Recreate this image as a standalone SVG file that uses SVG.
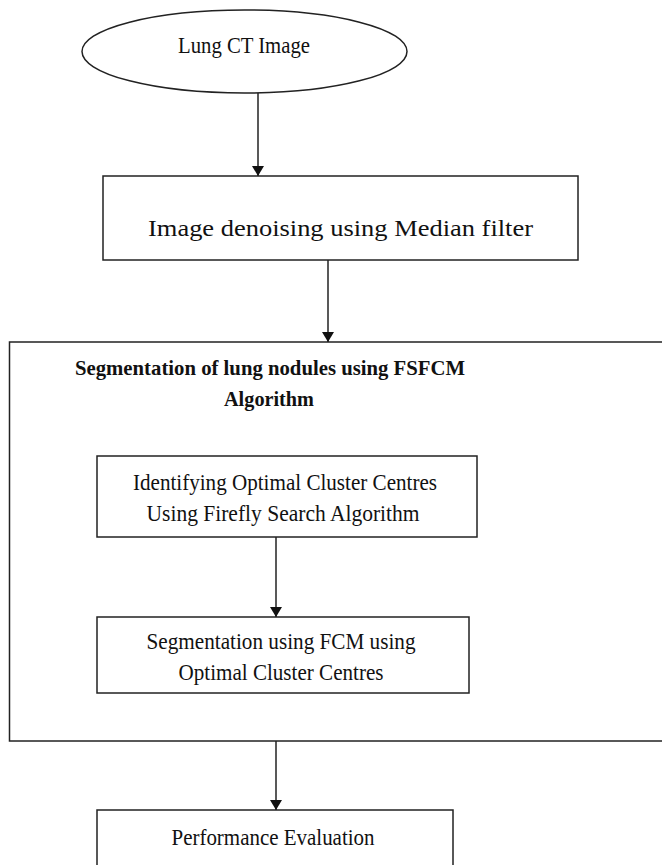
<svg xmlns="http://www.w3.org/2000/svg" width="662" height="865" viewBox="0 0 662 865">
<style>
.s{fill:#fff;stroke:#222;stroke-width:1.5}
.t{font-family:"Liberation Serif","Times New Roman",serif;font-size:24px;fill:#111;text-anchor:middle}
.b{font-weight:bold;font-size:21px}
.c{stroke:#222;stroke-width:1.5;fill:none}
</style>
<defs>
<marker id="ah" markerWidth="10" markerHeight="12" refX="10" refY="6" orient="auto" markerUnits="userSpaceOnUse">
<path d="M0,0 L10,6 L0,12 Z" fill="#111"/>
</marker>
</defs>
<rect width="662" height="865" fill="#fff"/>
<g id="n_lung">
<ellipse class="s" cx="244.5" cy="51.5" rx="162.5" ry="41.5"/>
<text class="t" x="244" y="53" textLength="132" lengthAdjust="spacingAndGlyphs">Lung CT  Image</text>
</g>
<g id="n_denoise">
<rect class="s" x="103" y="176" width="475" height="84"/>
<text class="t" x="340.5" y="236" textLength="385" lengthAdjust="spacingAndGlyphs">Image  denoising using Median filter</text>
</g>
<g id="n_seg">
<rect class="s" x="9.5" y="342" width="660" height="399"/>
<text class="t b" x="270" y="375" textLength="390" lengthAdjust="spacingAndGlyphs">Segmentation  of lung nodules  using FSFCM</text>
<text class="t b" x="269" y="406" textLength="90" lengthAdjust="spacingAndGlyphs">Algorithm</text>
</g>
<g id="n_firefly">
<rect class="s" x="97" y="456" width="380" height="81"/>
<text class="t" x="285" y="490" textLength="304" lengthAdjust="spacingAndGlyphs">Identifying Optimal Cluster Centres</text>
<text class="t" x="283" y="521" textLength="273" lengthAdjust="spacingAndGlyphs">Using Firefly Search Algorithm</text>
</g>
<g id="n_fcm">
<rect class="s" x="97" y="617" width="372" height="76"/>
<text class="t" x="281" y="649" textLength="269" lengthAdjust="spacingAndGlyphs">Segmentation using FCM using</text>
<text class="t" x="281" y="680" textLength="205" lengthAdjust="spacingAndGlyphs">Optimal Cluster Centres</text>
</g>
<g id="n_perf">
<rect class="s" x="97" y="810" width="356" height="70"/>
<text class="t" x="273" y="845" textLength="203" lengthAdjust="spacingAndGlyphs">Performance Evaluation</text>
</g>
<g id="connectors">
<line class="c" x1="258" y1="93" x2="258" y2="176" marker-end="url(#ah)"/>
<line class="c" x1="328" y1="260" x2="328" y2="342" marker-end="url(#ah)"/>
<line class="c" x1="276" y1="537" x2="276" y2="617" marker-end="url(#ah)"/>
<line class="c" x1="276" y1="741" x2="276" y2="810" marker-end="url(#ah)"/>
</g>
</svg>
